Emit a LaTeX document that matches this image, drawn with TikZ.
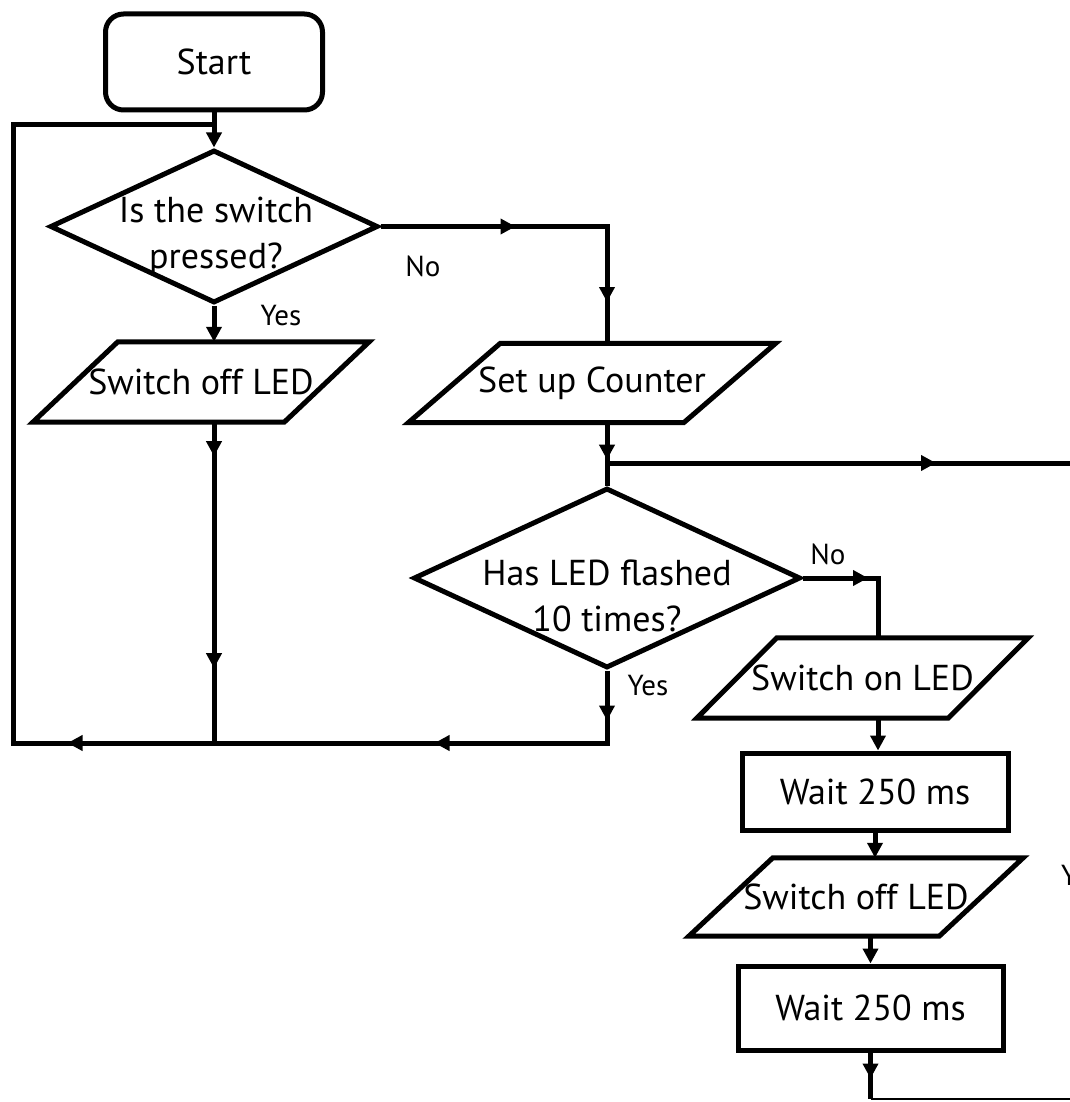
\documentclass[tikz,border=0pt]{standalone}
\usepackage{fontspec}
\setmainfont{PT Sans}
\usetikzlibrary{shapes.geometric,arrows.meta,decorations.markings,calc}

\tikzset{
  lw/.style={line width=5pt},
  tip/.style={-{Triangle[length=15pt,width=15pt]}},
  flow/.style={lw, line join=miter},
  arr/.style={flow, tip},
  marrow/.style={postaction={decorate,decoration={markings,
      mark=at position #1 with {\arrow{Triangle[length=15pt,width=15pt]}}}}},
  startbox/.style={draw, lw, rounded corners=18pt, minimum width=217pt,
      minimum height=96pt, inner sep=0pt},
  procbox/.style={draw, lw, inner sep=0pt},
  decision/.style={draw, lw, diamond, inner sep=0pt},
  iobox/.style={inner sep=0pt},
  txt/.style={align=center, inner sep=0pt},
  lbl/.style={font=\fontsize{29}{33}\selectfont, inner sep=0pt},
  thinline/.style={line width=1.8pt},
}
\newcommand\paral[2]{\draw[lw, line join=miter] (#1.south west) -- ([xshift=#2]#1.north west)
  -- (#1.north east) -- ([xshift=-#2]#1.south east) -- cycle;}

\begin{document}
\begin{tikzpicture}[x=1pt,y=-1pt,font=\fontsize{36}{46}\selectfont]
\useasboundingbox (0,0) rectangle (1069,1102);

% nodes
\node[startbox] (start) at (214,62) {Start};
\node[decision, minimum width=328pt, minimum height=153pt] (d1) at (214,226.5) {};
\node[txt] (d1t) at (216,236) {Is the switch\\pressed?};

\node[iobox, minimum width=336pt, minimum height=80pt] (p1) at (201,382) {Switch off LED};
\paral{p1}{85pt}
\node[iobox, minimum width=367pt, minimum height=79pt] (p2) at (592,383) {Set up Counter};
\paral{p2}{92pt}

\node[decision, minimum width=387pt, minimum height=180pt] (d2) at (607,578) {};
\node[txt] (d2t) at (607,596) {Has LED flashed\\10 times?};

\node[iobox, minimum width=331pt, minimum height=80pt] (p3) at (862.5,678) {Switch on LED};
\paral{p3}{80pt}
\node[procbox, minimum width=266pt, minimum height=77pt] (b1) at (875,791.5) {Wait 250 ms};
\node[iobox, minimum width=334pt, minimum height=78pt] (p4) at (856,897) {Switch off LED};
\paral{p4}{84pt}
\node[procbox, minimum width=265pt, minimum height=84pt] (b2) at (870.5,1008) {Wait 250 ms};

% labels
\node[lbl] (lno1) at (423,266) {No};
\node[lbl] (lyes1) at (281,316) {Yes};
\node[lbl] (lno2) at (828,554) {No};
\node[lbl] (lyes2) at (648,686) {Yes};
\node[lbl, anchor=base west] (lyes3) at (1061,885) {Yes};

% coordinates
\coordinate (j1) at (214,125);
\coordinate (tl) at (13,125);
\coordinate (bl) at (13,743);
\coordinate (br) at (607,743);
\coordinate (bm) at (214,743);
\coordinate (j2) at (607,463);
\coordinate (rt) at (1075,463);
\coordinate (p3in) at (878,638);
\coordinate (bb) at (870.5,1099);
\coordinate (bend) at (1075,1099);

% connectors
\draw[arr] (start.south) -- (d1.north);
\draw[arr] (d1.south) -- (d1.south |- p1.north);
\draw[flow, marrow=34pt, marrow=246pt] (p1.south -| d1.south) -- (bm);
\draw[flow, marrow=135pt, marrow=302pt] (d1.east) -| (p2.north -| br);
\draw[flow, marrow=37pt] (p2.south -| br) -- (d2.north);
\draw[flow, marrow=329pt] (j2) -- (rt);
\draw[flow, marrow=50pt, marrow=245pt, marrow=612pt] (d2.south) -- (br) -- (bl) -- (tl) -- (j1);
\draw[flow, marrow=65pt] (d2.east) -| (p3in);
\draw[arr] (p3in |- p3.south) -- (p3in |- b1.north);
\draw[arr] (b1.south) -- (b1.south |- p4.north);
\draw[arr] (b2.north |- p4.south) -- (b2.north);
\draw[flow, marrow=26pt] (b2.south) -- (bb);
\draw[thinline] (bb) -- (bend);
\end{tikzpicture}
\end{document}
